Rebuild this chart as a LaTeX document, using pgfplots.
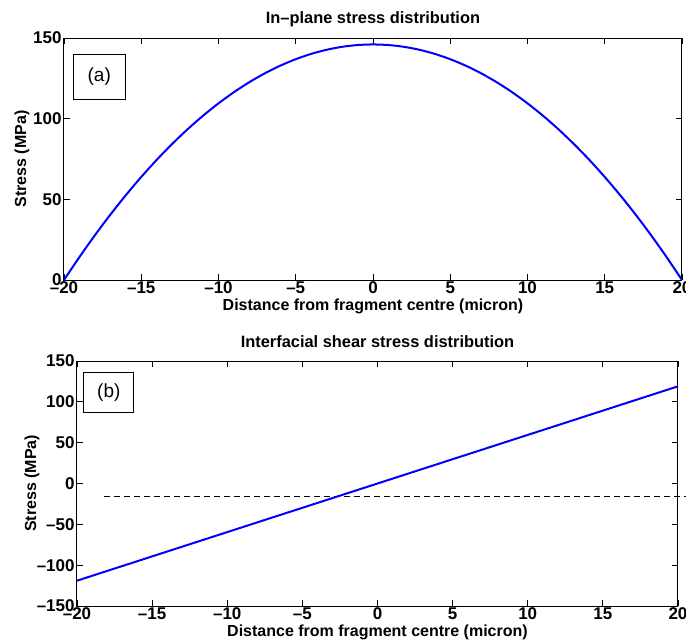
\documentclass[border=0pt]{standalone}
\usepackage{fontspec}
\setmainfont{Liberation Sans}
\usepackage{pgfplots}
\pgfplotsset{compat=1.18}

\tikzset{boxlabel/.style={draw, line width=0.5pt, font=\fontsize{9.5}{10}\selectfont, inner sep=0pt}}

\pgfplotsset{
  matlab/.style={
    scale only axis,
    axis line style={line width=0.5pt},
    tick align=inside,
    major tick length=3pt,
    tick style={black, line width=0.4pt},
    xmin=-20, xmax=20,
    xtick={-20,-15,...,20},
    xticklabels={–20,–15,–10,–5,0,5,10,15,20},
    tick label style={font=\fontsize{8.5}{9}\selectfont\bfseries},
    xticklabel style={inner sep=0.8pt},
    yticklabel style={inner sep=1pt},
    label style={font=\fontsize{8}{9}\selectfont\bfseries},
    title style={font=\fontsize{8.2}{9}\selectfont\bfseries, at={(axis description cs:0.5,1)}, anchor=center, yshift=3.5pt},
    xlabel style={at={(axis description cs:0.5,0)}, anchor=center, yshift=-13pt},
  }
}

\begin{document}
\begin{tikzpicture}
\useasboundingbox (0pt,0pt) rectangle (343pt,-319.5pt);

% (a) in-plane stress
\begin{axis}[matlab,
  at={(32pt,-19pt)}, anchor=north west,
  width=309pt, height=121pt,
  ymin=0, ymax=150, ytick={0,50,100,150},
  yticklabels={0,50,100,150},
  title={In–plane stress distribution},
  xlabel={Distance from fragment centre (micron)},
  ylabel={Stress (MPa)},
  ylabel style={at={(axis description cs:-0.068,0.5)}, anchor=center},
]
\addplot[blue, line width=1pt, smooth] coordinates {
  (-20,0) (-19,14.235) (-18,27.74) (-17,40.515) (-16,52.56) (-15,63.875)
  (-14,74.46) (-13,84.315) (-12,93.44) (-11,101.835) (-10,109.5)
  (-9,116.435) (-8,122.64) (-7,128.115) (-6,132.86) (-5,136.875)
  (-4,140.16) (-3,142.715) (-2,144.54) (-1,145.635) (0,146)
  (1,145.635) (2,144.54) (3,142.715) (4,140.16) (5,136.875)
  (6,132.86) (7,128.115) (8,122.64) (9,116.435) (10,109.5)
  (11,101.835) (12,93.44) (13,84.315) (14,74.46) (15,63.875)
  (16,52.56) (17,40.515) (18,27.74) (19,14.235) (20,0)
};
\node[boxlabel, minimum width=26pt, minimum height=22.5pt] at (rel axis cs:0.057,0.84) {(a)};
\end{axis}

% (b) interfacial shear stress
\begin{axis}[matlab,
  at={(38.5pt,-180.5pt)}, anchor=north west,
  width=300.5pt, height=122.5pt,
  clip=false,
  ymin=-150, ymax=150, ytick={-150,-100,...,150},
  yticklabels={–150,–100,–50,0,50,100,150},
  title={Interfacial shear stress distribution},
  xlabel={Distance from fragment centre (micron)},
  ylabel={Stress (MPa)},
  ylabel style={at={(axis description cs:-0.075,0.5)}, anchor=center},
]
\addplot[black, line width=0.5pt, dash pattern=on 3pt off 2pt] coordinates {(-18.2,-16) (20.5,-16)};
\addplot[blue, line width=1pt] coordinates {(-20,-119) (20,119)};
\node[boxlabel, minimum width=25pt, minimum height=20pt] at (rel axis cs:0.053,0.87) {(b)};
\end{axis}
\end{tikzpicture}
\end{document}
